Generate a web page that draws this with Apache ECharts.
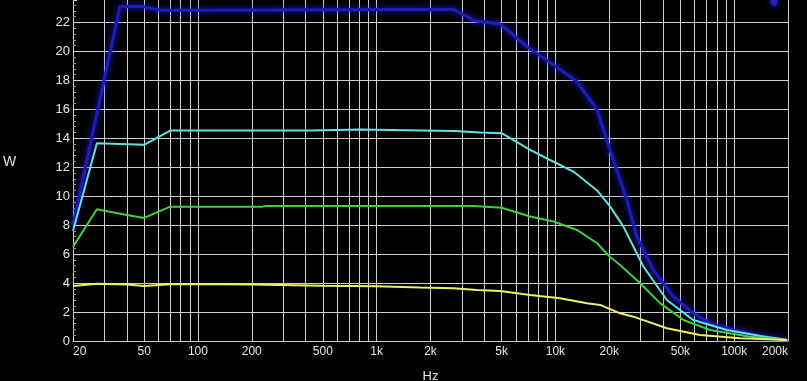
<!DOCTYPE html>
<html>
<head>
<meta charset="utf-8">
<script src="https://cdn.jsdelivr.net/npm/echarts@6/dist/echarts.min.js"></script>
<style>
html,body{margin:0;padding:0;background:#000;}
#chart{width:807px;height:381px;}
</style>
</head>
<body>
<div id="chart"></div>
<script>
// Frequencies in Hz, power in W
const blueFreq = [20, 36.6, 49, 61, 100, 1000, 2690, 3060, 3480, 4900, 6920, 9750, 13200, 17100, 20200, 25100, 28500, 35300, 45600, 59200, 73000, 98700, 140000, 198000];
const blueW    = [8.0, 23.1, 23.1, 22.85, 22.85, 22.9, 22.9, 22.53, 22.14, 21.9, 20.34, 19.07, 17.92, 15.96, 13.2, 9.74, 7.2, 4.9, 3.06, 1.91, 1.22, 0.76, 0.35, 0.07];

const cyanFreq = [20, 27.2, 50, 70, 430, 440, 800, 810, 2700, 3790, 5000, 7220, 9330, 12600, 17100, 20200, 24000, 31100, 42000, 59000, 91000, 140000, 198000];
const cyanW    = [7.6, 13.66, 13.55, 14.53, 14.53, 14.6, 14.6, 14.5, 14.5, 14.4, 14.35, 13.2, 12.5, 11.7, 10.4, 9.3, 7.9, 5.13, 2.83, 1.45, 0.76, 0.35, 0.07];

const greenFreq = [20, 27.2, 40, 50, 70, 230, 240, 3500, 5000, 7220, 9750, 13200, 17100, 20200, 23000, 29800, 38600, 52000, 73300, 123000, 198000];
const greenW    = [6.5, 9.1, 8.7, 8.5, 9.28, 9.28, 9.33, 9.33, 9.2, 8.6, 8.25, 7.67, 6.75, 5.8, 5.25, 3.99, 2.6, 1.45, 0.76, 0.3, 0.07];

const yellowFreq = [20, 27.2, 40, 50, 70, 100, 200, 500, 1000, 1750, 2690, 3630, 4900, 7220, 10600, 15000, 17800, 23000, 27300, 42000, 64400, 108000, 198000];
const yellowW    = [3.8, 3.95, 3.9, 3.8, 3.92, 3.94, 3.9, 3.82, 3.78, 3.7, 3.64, 3.52, 3.45, 3.18, 2.95, 2.6, 2.49, 1.91, 1.68, 0.88, 0.41, 0.19, 0.07];

const markerFreq = [167000];
const markerW = [23.4];

const xLabelFreqs = [20, 50, 100, 200, 500, 1000, 2000, 5000, 10000, 20000, 50000, 100000, 200000];
const xGridFreqs = [];
[10, 100, 1000, 10000, 100000].forEach(d => { for (let m = 1; m <= 9; m++) { const f = m * d; if (f >= 20 && f <= 200000) xGridFreqs.push(f); } });
xGridFreqs.push(200000);

const lg = Math.log10;
function pairs(fs, vs) { return fs.map((f, i) => [lg(f), vs[i]]); }
function fmtHz(v) {
  const f = Math.round(Math.pow(10, v));
  return f >= 1000 ? (f / 1000) + 'k' : String(f);
}

const txt = '#e6e6e6';
const gridC = '#cfcfcf';
const font = '"Liberation Sans", Arial, sans-serif';

const chart = echarts.init(document.getElementById('chart'), null, {renderer: 'canvas'});
chart.setOption({
  animation: false,
  backgroundColor: '#000',
  grid: {left: 73, right: 19, top: 0, bottom: 40, containLabel: false, outerBoundsMode: 'none'},
  graphic: [
    {type: 'text', left: 3, top: 155, style: {text: 'W', fill: txt, fontSize: 14, fontFamily: font}}
  ],
  xAxis: {
    type: 'value',
    min: lg(20),
    max: lg(200000),
    name: 'Hz',
    nameLocation: 'middle',
    nameGap: 29,
    nameTextStyle: {color: txt, fontSize: 13, fontFamily: font},
    axisLine: {show: true, lineStyle: {color: gridC, width: 1}},
    axisTick: {show: false, customValues: xGridFreqs.map(lg)},
    axisLabel: {
      customValues: xLabelFreqs.map(lg),
      formatter: fmtHz,
      color: txt, fontSize: 12, fontFamily: font, margin: 5,
      alignMinLabel: 'left', alignMaxLabel: 'right'
    },
    splitLine: {show: true, lineStyle: {color: gridC, width: 1}}
  },
  yAxis: {
    type: 'value',
    min: 0,
    max: 23.55,
    interval: 2,
    axisLine: {show: true, lineStyle: {color: gridC, width: 1}},
    axisTick: {show: true, inside: true, length: 4, lineStyle: {color: gridC}},
    minorTick: {show: true, splitNumber: 5, length: 3, lineStyle: {color: '#999'}},
    axisLabel: {color: txt, fontSize: 13, fontFamily: font, margin: 3, showMaxLabel: false},
    splitLine: {show: true, showMaxLine: false, lineStyle: {color: gridC, width: 1}}
  },
  series: [
    {type: 'line', name: 'blue', data: pairs(blueFreq, blueW), showSymbol: false, z: 2,
     lineStyle: {color: '#1c1cbc', width: 3, shadowBlur: 6, shadowColor: '#2424e0'}},
    {type: 'line', name: 'cyan', data: pairs(cyanFreq, cyanW), showSymbol: false, z: 3,
     lineStyle: {color: '#5fe3e3', width: 2}},
    {type: 'line', name: 'green', data: pairs(greenFreq, greenW), showSymbol: false, z: 4,
     lineStyle: {color: '#3fcf3f', width: 2}},
    {type: 'line', name: 'yellow', data: pairs(yellowFreq, yellowW), showSymbol: false, z: 5,
     lineStyle: {color: '#f0f060', width: 2}},
    {type: 'scatter', name: 'marker', data: pairs(markerFreq, markerW), symbolSize: 7, clip: false, z: 6,
     itemStyle: {color: '#2424e0', shadowBlur: 6, shadowColor: '#3030ff'}}
  ]
});
</script>
</body>
</html>
